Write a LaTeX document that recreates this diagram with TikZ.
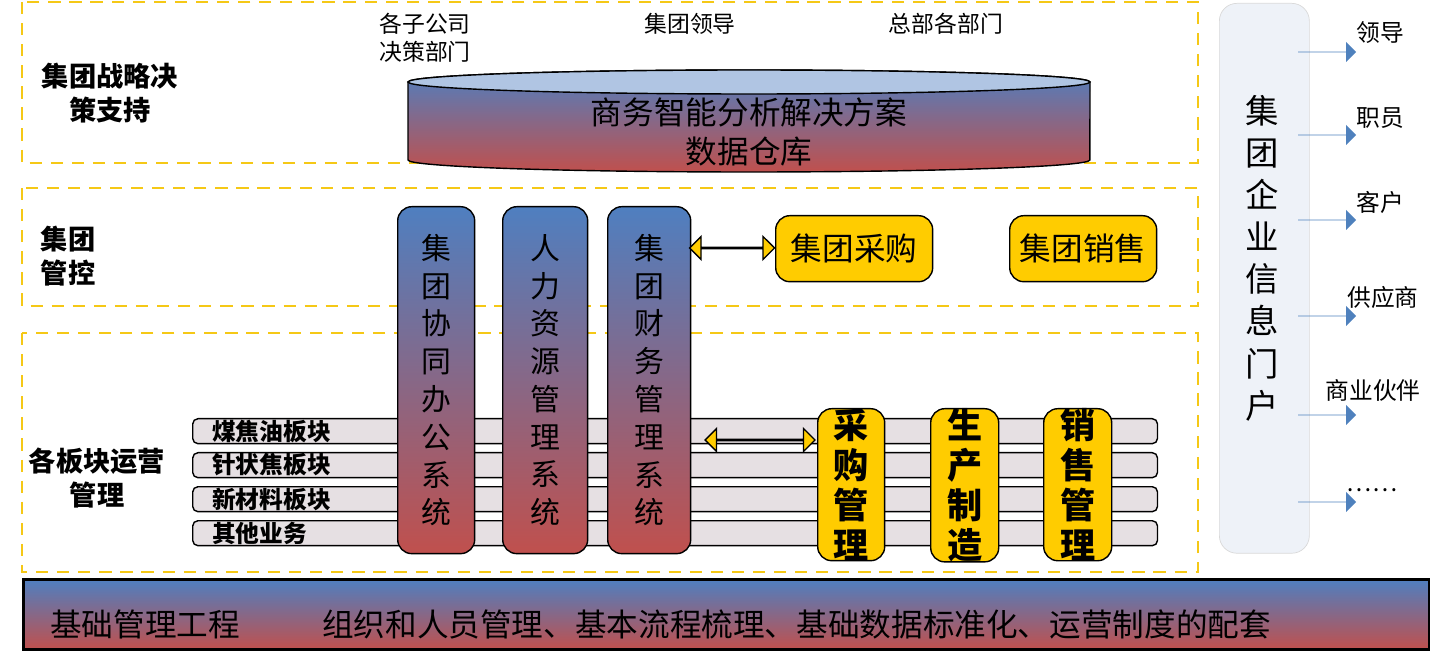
\documentclass[tikz,border=0pt]{standalone}
\usepackage{fontspec}
\setmainfont{Noto Sans CJK SC}
\usetikzlibrary{positioning, shapes.arrows, shapes.geometric}
\definecolor{gblue}{HTML}{4F7FC0}
\definecolor{gred}{HTML}{C0504D}
\definecolor{gold}{HTML}{FFCC00}
\definecolor{dashgold}{HTML}{F5C816}
\definecolor{strip}{HTML}{E6E0E3}
\definecolor{portal}{HTML}{EEF2F8}
\definecolor{arrowblue}{HTML}{4F81BD}
\newcommand*{\fs}[2]{\fontsize{#1}{#2}\selectfont}
\tikzset{
  layer/.style={draw=dashgold, line width=1.6pt, dash pattern=on 7pt off 5pt},
  sys/.style={draw, thick, rounded corners=8pt, top color=gblue, bottom color=gred, anchor=north west, inner sep=0pt, align=center},
  yel/.style={draw, thick, fill=gold, rounded corners=8pt, inner sep=0pt},
  bar/.style={draw, thick, fill=strip, rounded corners=3pt, anchor=north west, inner sep=0pt, minimum height=0.5cm, minimum width=19.3cm},
  dbl/.style={double arrow, draw, thick, fill=gold, double arrow head extend=0.2cm, minimum width=0.46cm, inner sep=0pt},
  portarrow/.style={single arrow, fill=arrowblue, single arrow head extend=0.16cm, minimum width=0.4cm, minimum height=1.16cm, inner sep=0pt},
}
\begin{document}
\begin{tikzpicture}[x=0.02cm, y=-0.02cm]
\useasboundingbox (0,0) rectangle (1436,651);

% layers
\draw[layer] (22,2) rectangle (1198,163);
\draw[layer] (22,188) rectangle (1198,306);
\draw[layer] (22,333) rectangle (1198,572);
\node (L1) [align=center, font=\bfseries\fs{15.5}{19}] at (110,93) {集团战略决\\策支持};
\node (L2) [align=center, font=\bfseries\fs{15.5}{19}] at (68,256) {集团\\管控};
\node (L3) [align=center, font=\bfseries\fs{15.5}{19}] at (97,478) {各板块运营\\管理};

% users of the warehouse
\node (T1) [align=left, font=\fs{13}{16}] at (425,38) {各子公司\\决策部门};
\node (T2) [font=\fs{13}{16}] at (690,24) {集团领导};
\node (T3) [font=\fs{13}{16}] at (946,24) {总部各部门};

% data warehouse
\shade[top color=gblue, bottom color=gred, draw, thick] (408,82) -- (408,160)
  arc[start angle=180, end angle=360, x radius=6.82cm, y radius=0.24cm] -- (1090,82)
  arc[start angle=0, end angle=180, x radius=6.82cm, y radius=0.24cm] -- cycle;
\draw[thick, fill=gblue!45] (749,82) ellipse [x radius=6.82cm, y radius=0.24cm];
\node (DW) [align=center, font=\fs{18}{22}] at (749,132) {商务智能分析解决方案\\数据仓库};

% business strips
\node (S1) [bar] at (192,418) {};
\node (S2) [bar] at (192,452) {};
\node (S3) [bar] at (192,486) {};
\node (S4) [bar] at (192,520) {};
\node [anchor=west, font=\bfseries\fs{13.5}{16}] at (206,431) {煤焦油板块};
\node [anchor=west, font=\bfseries\fs{13.5}{16}] at (206,465) {针状焦板块};
\node [anchor=west, font=\bfseries\fs{13.5}{16}] at (206,499) {新材料板块};
\node [anchor=west, font=\bfseries\fs{13.5}{16}] at (206,533) {其他业务};

% group systems
\node (OA) [sys, minimum width=1.54cm, minimum height=6.94cm, font=\fs{17}{21.5}] at (397,206) {集\\团\\协\\同\\办\\公\\系\\统};
\node (HR) [sys, minimum width=1.7cm, minimum height=6.94cm, font=\fs{17}{21.5}] at (502,206) {人\\力\\资\\源\\管\\理\\系\\统};
\node (FI) [sys, minimum width=1.66cm, minimum height=6.94cm, font=\fs{17}{21.5}] at (607,206) {集\\团\\财\\务\\管\\理\\系\\统};

% group purchasing and sales
\node (GP) [yel, anchor=north west, minimum width=3.14cm, minimum height=1.32cm, font=\fs{18}{22}] at (775,215) {集团采购};
\node (GS) [yel, anchor=north west, minimum width=2.94cm, minimum height=1.32cm, font=\fs{18}{22}] at (1009,215) {集团销售};
\node (A1) [dbl, minimum height=1.7cm] at (732,248) {};

% operations
\node (PU) [yel, anchor=north west, minimum width=1.34cm, minimum height=2.9cm, align=center, font=\bfseries\fs{20}{22.7}] at (817,408) {采\\购\\管\\理};
\node (PR) [yel, anchor=north west, minimum width=1.36cm, minimum height=2.9cm, align=center, font=\bfseries\fs{20}{22.7}] at (930,408) {生\\产\\制\\造};
\node (SA) [yel, anchor=north west, minimum width=1.36cm, minimum height=2.9cm, align=center, font=\bfseries\fs{20}{22.7}] at (1043,408) {销\\售\\管\\理};
\node (A2) [dbl, minimum height=2.2cm] at (760,440) {};

% foundation
\node (BASE) [draw, line width=1.5pt, top color=gblue, bottom color=gred, anchor=north west, minimum width=28.12cm, minimum height=1.4cm, inner sep=0pt] at (22,578) {};
\node [anchor=west, font=\fs{18}{22}] at (44,624) {基础管理工程};
\node [anchor=west, font=\fs{18}{22}] at (316,624) {组织和人员管理、基本流程梳理、基础数据标准化、运营制度的配套};

% portal
\node (PT) [draw=gray!30, fill=portal, rounded corners=10pt, anchor=north west, minimum width=1.8cm, minimum height=11cm, inner sep=0pt] at (1219,3) {};
\node [align=center, font=\fs{19}{24}] at (1262,258) {集\\团\\企\\业\\信\\息\\门\\户};
\foreach \y/\t/\ty/\tx in {52/领导/33/1380, 135/职员/118/1380, 220/客户/202/1380, 316/供应商/297/1383, 415/商业伙伴/390/1373, 502/……/490/1372} {
  \node (O\y) [portarrow] at (1327,\y) {};
  \node [font=\fs{13.5}{16}] at (\tx,\ty) {\t};
}
\end{tikzpicture}
\end{document}
